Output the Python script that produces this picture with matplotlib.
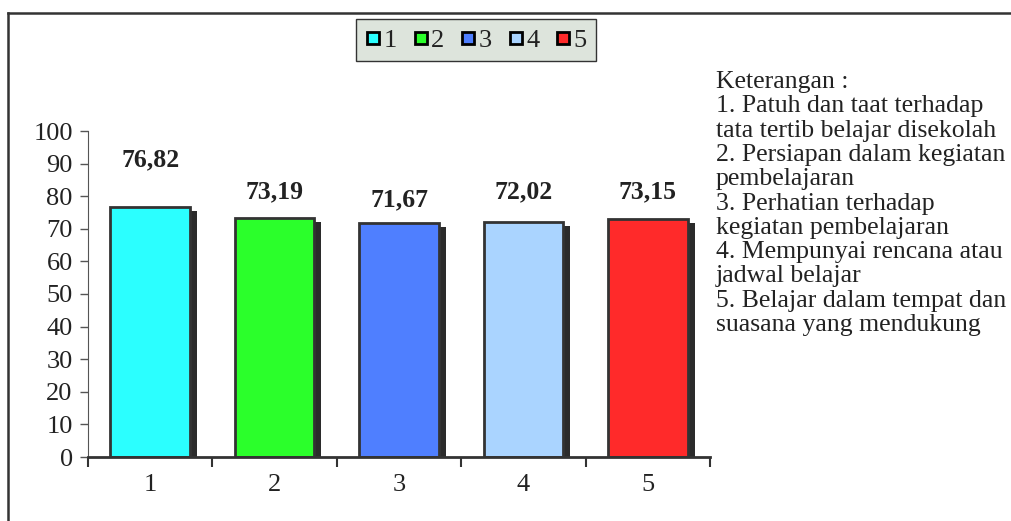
import matplotlib.pyplot as plt
from matplotlib.lines import Line2D
from matplotlib.transforms import offset_copy

plt.rcParams['font.family'] = ['Liberation Serif', 'DejaVu Serif']

categories = ['1', '2', '3', '4', '5']
values = [76.82, 73.19, 71.67, 72.02, 73.15]
value_text = ['76,82', '73,19', '71,67', '72,02', '73,15']
colors = ['#2bffff', '#2bff2b', '#4f7fff', '#aad4ff', '#ff2a2a']
# where excel put the data labels (in data units)
label_y = [91.1, 81.2, 78.8, 81.2, 81.2]

notes = ['Keterangan :',
         '1. Patuh dan taat terhadap',
         'tata tertib belajar disekolah',
         '2. Persiapan dalam kegiatan',
         'pembelajaran',
         '3. Perhatian terhadap',
         'kegiatan pembelajaran',
         '4. Mempunyai rencana atau',
         'jadwal belajar',
         '5. Belajar dalam tempat dan',
         'suasana yang mendukung']

fig = plt.figure(figsize=(10.11, 5.21), dpi=100)
ax = fig.add_axes([88/1011, 1-457/521, (710-88)/1011, (457-131)/521])

x = list(range(1, len(categories) + 1))

# shadow behind the bars
shadow = offset_copy(ax.transData, fig=fig, x=7, y=-4, units='dots')
ax.bar(x, values, width=0.64, color='#2b2b2b', transform=shadow, zorder=2)
ax.bar(x, values, width=0.64, color=colors, edgecolor='#333333',
       linewidth=2, zorder=3)

for xi, t, ly in zip(x, value_text, label_y):
    ax.text(xi, ly, t, ha='center', va='center', fontsize=18.5,
            fontweight='bold', color='#222222')

ax.set_xlim(0.5, 5.5)
ax.set_ylim(0, 100)
ax.set_yticks(range(0, 101, 10))
ax.set_xticks([i + 0.5 for i in range(0, 6)])
ax.set_xticklabels([])
ax.set_xticks(x, minor=True)
ax.set_xticklabels(categories, minor=True)
ax.tick_params(axis='x', which='minor', length=0, pad=12, labelsize=19,
               labelcolor='#222222')
ax.tick_params(axis='x', which='major', length=7, width=1.5, color='#333333')
ax.tick_params(axis='y', length=6, width=1, color='#555555', labelsize=19,
               pad=5, labelcolor='#222222')
for s in ['top', 'right']:
    ax.spines[s].set_visible(False)
ax.spines['left'].set_color('#555555')
ax.spines['bottom'].set_color('#333333')
ax.spines['bottom'].set_linewidth(2)
ax.spines['bottom'].set_zorder(4)

handles = [Line2D([], [], marker='s', linestyle='none', markersize=8.5,
                  markerfacecolor=c, markeredgecolor='black',
                  markeredgewidth=2) for c in colors]
leg = fig.legend(handles, categories, loc='center', ncol=5,
                 bbox_to_anchor=(476/1011, 1-40/521), fontsize=19,
                 handletextpad=0.1, columnspacing=0.6, handlelength=0.6,
                 fancybox=False, framealpha=1, borderpad=0.35,
                 borderaxespad=0)
leg.get_frame().set_edgecolor('#333333')
leg.get_frame().set_facecolor('#dde4dc')
leg.get_frame().set_linewidth(1)
for t in leg.get_texts():
    t.set_color('#222222')

for i, line in enumerate(notes):
    fig.text(716/1011, 1-(82 + i*24.3)/521, line, fontsize=18.5,
             va='center', ha='left', color='#222222')

# outer frame, cut at right and bottom
fig.add_artist(Line2D([8/1011, 1], [1-13/521, 1-13/521], color='#333333',
                      linewidth=1.8, transform=fig.transFigure))
fig.add_artist(Line2D([8/1011, 8/1011], [0, 1-13/521], color='#333333',
                      linewidth=1.8, transform=fig.transFigure))

fig.savefig('out.png', dpi=100)
